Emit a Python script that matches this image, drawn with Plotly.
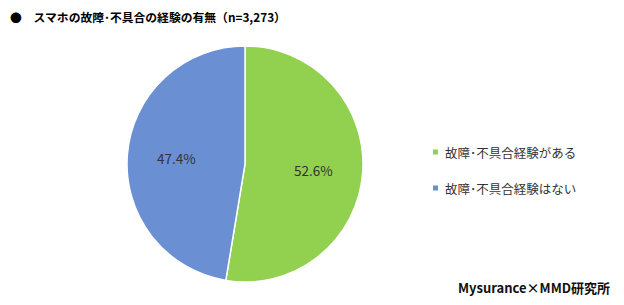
import math
import plotly.graph_objects as go

labels = ["故障･不具合経験がある", "故障･不具合経験はない"]
values = [52.6, 47.4]
colors = ["#92D050", "#6B8FD3"]
title_text = "●　スマホの故障･不具合の経験の有無（n=3,273）"
source_text = "Mysurance×MMD研究所"

W, H = 624, 305
FONT = "Noto Sans CJK JP"

cx, cy, r = 245, 164, 118

fig = go.Figure()
fig.add_trace(go.Pie(
    labels=labels, values=values, sort=False, direction="clockwise", rotation=0,
    marker=dict(colors=colors, line=dict(color="white", width=1.5)),
    textinfo="none",
    domain=dict(x=[(cx - r) / W, (cx + r) / W], y=[1 - (cy + r) / H, 1 - (cy - r) / H]),
    showlegend=False, hoverinfo="label+percent",
))

annotations = [
    dict(text=f"<b>{title_text}</b>", x=8 / W, y=1 - 16 / H, xref="paper", yref="paper",
         xanchor="left", yanchor="middle", showarrow=False,
         font=dict(family=FONT, size=11.8, color="#000000")),
    dict(text=f"<b>{source_text}</b>", x=612 / W, y=1 - 287 / H, xref="paper", yref="paper",
         xanchor="right", yanchor="middle", showarrow=False,
         font=dict(family=FONT, size=13, color="#111111")),
]

# slice labels placed at slice mid-angles
total = sum(values)
cum = 0.0
for v in values:
    mid = (cum + v / 2) / total * 2 * math.pi
    cum += v
    lx = cx + 0.58 * r * math.sin(mid)
    ly = cy - 0.58 * r * math.cos(mid)
    annotations.append(dict(text=f"{v:.1f}%", x=lx / W, y=1 - ly / H, xref="paper", yref="paper",
                            xanchor="center", yanchor="middle", showarrow=False,
                            font=dict(family=FONT, size=13.5, color="#333333")))

shapes = []
leg_x, leg_y0, leg_dy = 433, 152, 36
for i, (lab, col) in enumerate(zip(labels, colors)):
    yy = leg_y0 + i * leg_dy
    shapes.append(dict(type="rect", xref="paper", yref="paper",
                       x0=leg_x / W, x1=(leg_x + 5) / W,
                       y0=1 - (yy + 2.5) / H, y1=1 - (yy - 2.5) / H,
                       fillcolor=col, line=dict(width=0)))
    annotations.append(dict(text=lab, x=(leg_x + 10) / W, y=1 - yy / H, xref="paper", yref="paper",
                            xanchor="left", yanchor="middle", showarrow=False,
                            font=dict(family=FONT, size=12.5, color="#333333")))

fig.update_layout(
    width=W, height=H, margin=dict(l=0, r=0, t=0, b=0),
    paper_bgcolor="white", plot_bgcolor="white",
    annotations=annotations, shapes=shapes,
)
fig.write_html("out.html")
